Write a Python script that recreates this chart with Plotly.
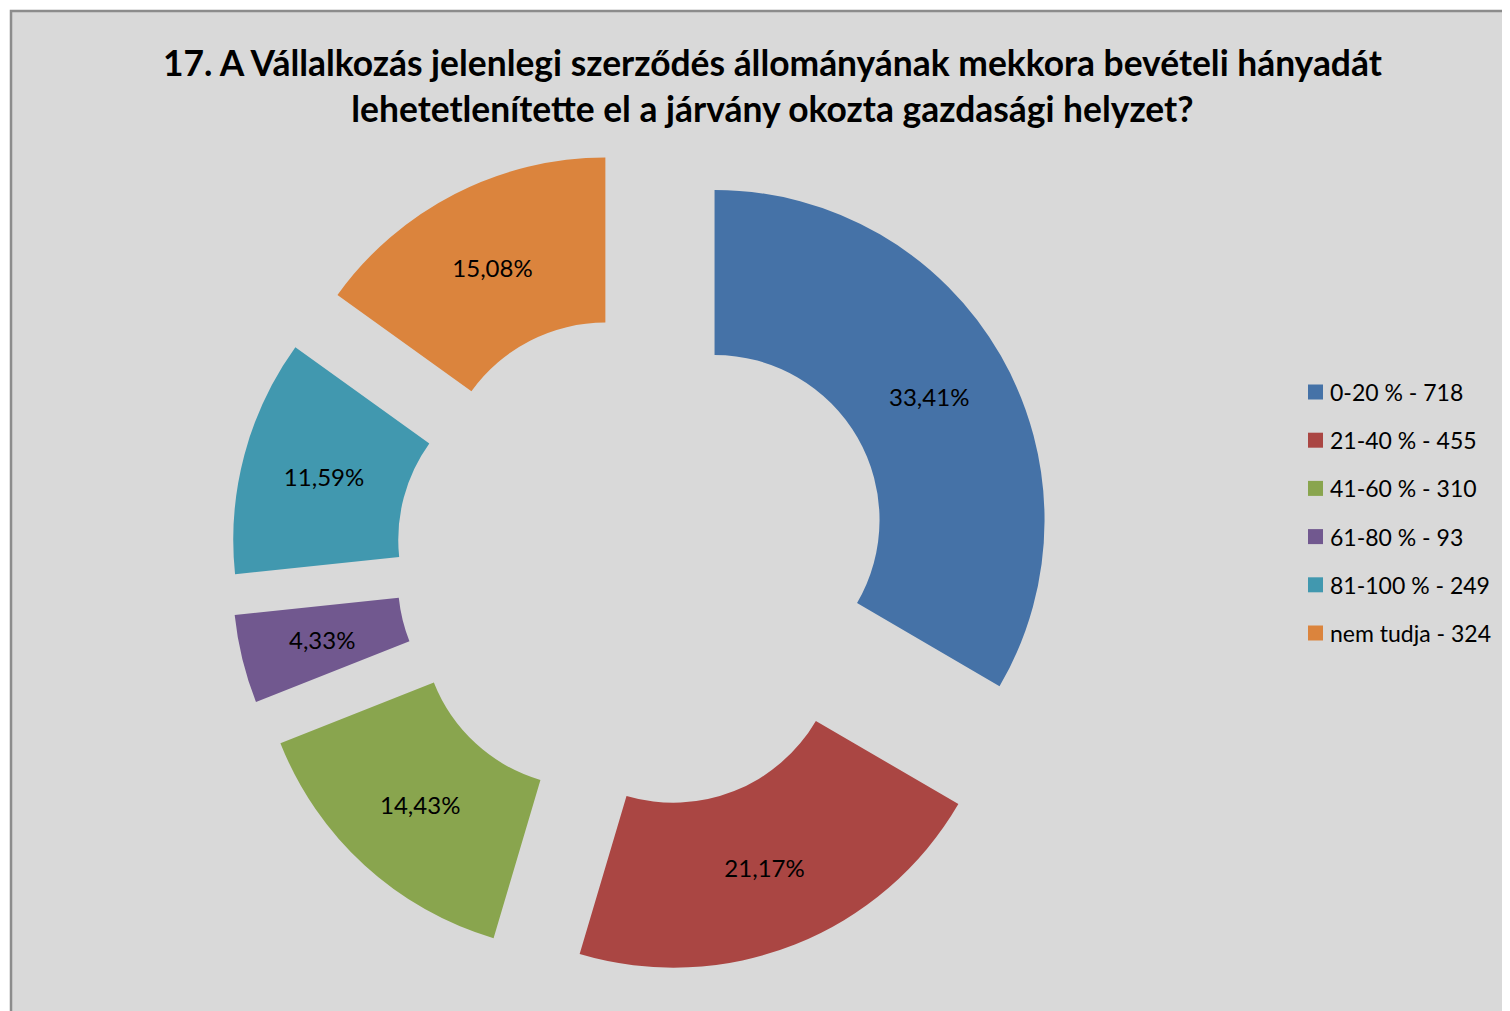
import math
import plotly.graph_objects as go

labels = ["0-20 %", "21-40 %", "41-60 %", "61-80 %", "81-100 %", "nem tudja"]
values = [718, 455, 310, 93, 249, 324]
colors = ["#4572A7", "#AA4643", "#89A54E", "#71588F", "#4198AF", "#DB843D"]
title_text = ("17. A Vállalkozás jelenlegi szerződés állományának mekkora bevételi hányadát<br>"
              "lehetetlenítette el a járvány okozta gazdasági helyzet?")

W, H = 1510, 1011
total = sum(values)
pct_text = [f"{v / total * 100:.2f}".replace(".", ",") + "%" for v in values]
FONT = "Lato"
PULL, HOLE = 0.25, 0.5
dom_x = [222.5, 1047.5]
dom_y = [45.5, 870.5]  # pixels from bottom

# slices whose label plotly would push aside: place label at ring middle ourselves
manual_label = [False, False, False, True, False, False]
trace_text = [("" if m else t) for t, m in zip(pct_text, manual_label)]

fig = go.Figure()
fig.add_trace(go.Pie(
    labels=labels, values=values, sort=False, direction="clockwise", rotation=0,
    hole=HOLE, pull=[PULL] * len(values),
    marker=dict(colors=colors, line=dict(width=0)),
    text=trace_text, textinfo="text", textposition="inside",
    insidetextorientation="horizontal",
    textfont=dict(family=FONT, size=24, color="black"),
    domain=dict(x=[dom_x[0] / W, dom_x[1] / W], y=[dom_y[0] / H, dom_y[1] / H]),
    showlegend=False, hoverinfo="label+value", hovertext=pct_text,
))

shapes = [dict(type="rect", xref="paper", yref="paper", x0=3 / W, x1=1.01, y0=-0.01, y1=1 - 3 / H,
               fillcolor="#D9D9D9", line=dict(color="#8C8C8C", width=2.5), layer="below")]
annotations = [dict(text=f"<b>{title_text}</b>", xref="paper", yref="paper", x=764 / W, y=1 - 31 / H,
                    xanchor="center", yanchor="top", showarrow=False, align="center",
                    font=dict(family=FONT, size=35.4, color="black"))]

# label positions derived from the pie geometry
cx = (dom_x[0] + dom_x[1]) / 2
cy = (dom_y[0] + dom_y[1]) / 2
r_out = (dom_x[1] - dom_x[0]) / 2 / (1 + PULL)
cum = 0
for i, v in enumerate(values):
    theta = 2 * math.pi * (cum + v / 2) / total
    cum += v
    if not manual_label[i]:
        continue
    rr = PULL * r_out + r_out * (1 + HOLE) / 2
    px = cx + rr * math.sin(theta)
    py = cy + rr * math.cos(theta)
    annotations.append(dict(text=pct_text[i], xref="paper", yref="paper", x=px / W, y=py / H,
                            xanchor="center", yanchor="middle", showarrow=False,
                            font=dict(family=FONT, size=24, color="black")))

# manual legend
leg_y0, leg_dy = 384, 48.2
for i, (lab, val, col) in enumerate(zip(labels, values, colors)):
    yc = leg_y0 + i * leg_dy
    shapes.append(dict(type="rect", xref="paper", yref="paper",
                       x0=1300 / W, x1=1315 / W, y0=1 - (yc + 7.5) / H, y1=1 - (yc - 7.5) / H,
                       fillcolor=col, line=dict(width=0)))
    annotations.append(dict(text=f"{lab} - {val}", xref="paper", yref="paper",
                            x=1320 / W, y=1 - yc / H, xanchor="left", yanchor="middle",
                            showarrow=False, font=dict(family=FONT, size=23, color="black")))

fig.update_layout(
    width=W, height=H, margin=dict(l=0, r=0, t=0, b=0),
    paper_bgcolor="white", plot_bgcolor="white",
    shapes=shapes, annotations=annotations, showlegend=False,
)
fig.write_html("out.html")
